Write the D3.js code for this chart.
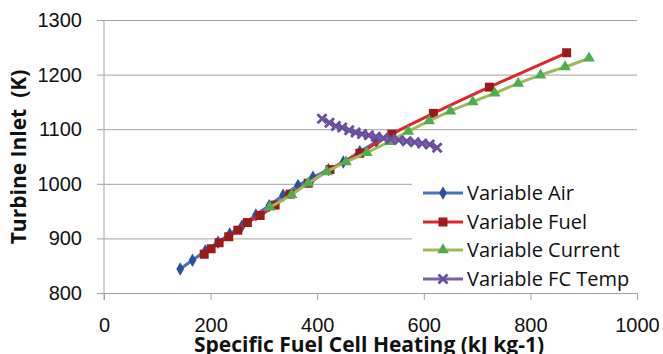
<!DOCTYPE html>
<html>
<head>
<meta charset="utf-8">
<script src="https://cdn.jsdelivr.net/npm/d3@7"></script>
<style>
  body { margin: 0; background: #fff; }
  svg { display: block; font-family: "Open Sans", "Noto Sans", sans-serif; }
</style>
</head>
<body>
<div id="chart"></div>
<script>
// values
const xTicks = [0, 200, 400, 600, 800, 1000];
const yTicks = [800, 900, 1000, 1100, 1200, 1300];

const airX = [143, 166, 190, 214, 236, 259, 285, 310, 336, 364, 392, 421, 449, 480, 511];
const airY = [844, 860, 877, 893, 908, 923, 943, 960, 979, 997, 1012, 1026, 1040, 1059, 1077];

const fuelX = [188, 201, 216, 234, 251, 269, 293, 321, 349, 383, 424, 480, 540, 618, 723, 868];
const fuelY = [871, 881, 892, 903, 915, 929, 942, 961, 981, 1001, 1026, 1056, 1091, 1129, 1177, 1240];

const currentX = [311, 352, 383, 418, 454, 493, 535, 571, 610, 650, 692, 733, 777, 819, 865, 910];
const currentY = [957, 980, 1001, 1022, 1040, 1057, 1077, 1096, 1115, 1133, 1150, 1166, 1184, 1199, 1214, 1230];

const fcTempX = [409, 423, 435, 447, 460, 472, 484, 497, 510, 524, 538, 553, 568, 583, 597, 611, 625];
const fcTempY = [1119, 1112, 1106, 1103, 1098, 1094, 1091, 1089, 1086, 1084, 1082, 1080, 1078, 1076, 1074, 1072, 1066];

const seriesNames = ["Variable Air", "Variable Fuel", "Variable Current", "Variable FC Temp"];

const zip = (xs, ys) => xs.map((x, i) => ({ x, y: ys[i] }));
const series = [
  { name: seriesNames[0], pts: zip(airX, airY), line: "#4a72c4", mark: "#2c4f9e", shape: "diamond" },
  { name: seriesNames[1], pts: zip(fuelX, fuelY), line: "#e0262a", mark: "#9b1b1b", shape: "square" },
  { name: seriesNames[2], pts: zip(currentX, currentY), line: "#9bbb59", mark: "#4cae4c", shape: "triangle" },
  { name: seriesNames[3], pts: zip(fcTempX, fcTempY), line: "#7b60a8", mark: "#6b4f9f", shape: "x" },
];

const W = 663, H = 354;
const margin = { top: 20, right: 26, bottom: 61, left: 104 };
const width = W - margin.left - margin.right;
const height = H - margin.top - margin.bottom;

const svg = d3.select("#chart").append("svg")
  .attr("width", W)
  .attr("height", H);

const xScale = d3.scaleLinear().domain([0, 1000]).range([margin.left, margin.left + width]);
const yScale = d3.scaleLinear().domain([800, 1300]).range([margin.top + height, margin.top]);

const grid = "#a3a3a3";
const fmt = d3.format("d");

// horizontal gridlines + y labels
const yAxis = svg.append("g")
  .attr("transform", `translate(${margin.left - 7},0)`)
  .call(d3.axisLeft(yScale).tickValues(yTicks).tickFormat(fmt).tickSize(-(width + 7)).tickPadding(15));
yAxis.select(".domain").remove();
yAxis.selectAll("line").attr("stroke", grid);
yAxis.selectAll("text").attr("font-size", 20).attr("fill", "#111");

// x axis with tick marks below
const xAxis = svg.append("g")
  .attr("transform", `translate(0,${margin.top + height})`)
  .call(d3.axisBottom(xScale).tickValues(xTicks).tickFormat(fmt).tickSize(7).tickPadding(18).tickSizeOuter(0));
xAxis.select(".domain").attr("stroke", grid);
xAxis.selectAll("line").attr("stroke", grid);
xAxis.selectAll("text").attr("font-size", 20).attr("fill", "#111");

// vertical axis line
svg.append("line")
  .attr("x1", margin.left).attr("x2", margin.left)
  .attr("y1", margin.top).attr("y2", margin.top + height + 7)
  .attr("stroke", grid);

// legend background hides gridlines behind it
const legend = { x: 412, y: 178, w: 228, h: 113 };
svg.append("rect")
  .attr("x", legend.x).attr("y", legend.y)
  .attr("width", legend.w).attr("height", legend.h)
  .attr("fill", "#fff");

const symbolFor = (shape) => {
  if (shape === "diamond") return d3.symbol(d3.symbolDiamond, 52)();
  if (shape === "square") return d3.symbol(d3.symbolSquare, 81)();
  if (shape === "triangle") return d3.symbol(d3.symbolTriangle, 58)();
  return "M-4.5,-4.5L4.5,4.5M-4.5,4.5L4.5,-4.5";
};

const drawMarker = (sel, s) => {
  if (s.shape === "x") {
    sel.attr("d", symbolFor(s.shape)).attr("fill", "none")
      .attr("stroke", s.mark).attr("stroke-width", 2.8);
  } else {
    sel.attr("d", symbolFor(s.shape)).attr("fill", s.mark);
  }
};

const lineGen = d3.line()
  .x((d) => xScale(d.x))
  .y((d) => yScale(d.y))
  .curve(d3.curveCatmullRom.alpha(0.5));

series.forEach((s) => {
  const g = svg.append("g");
  g.append("path")
    .datum(s.pts)
    .attr("d", lineGen)
    .attr("fill", "none")
    .attr("stroke", s.line)
    .attr("stroke-width", 3);
  g.selectAll("path.m")
    .data(s.pts)
    .join("path")
    .attr("class", "m")
    .attr("transform", (d) => `translate(${xScale(d.x)},${yScale(d.y)})`)
    .call(drawMarker, s);
});

// legend entries
const rowY = [193, 222, 250, 279];
series.forEach((s, i) => {
  const g = svg.append("g").attr("transform", `translate(0,${rowY[i]})`);
  g.append("line")
    .attr("x1", 423).attr("x2", 463)
    .attr("stroke", s.line).attr("stroke-width", 3);
  g.append("path")
    .attr("transform", "translate(443,0)")
    .call(drawMarker, s);
  g.append("text")
    .attr("x", 467).attr("dy", "0.35em")
    .attr("font-size", 20).attr("fill", "#111")
    .text(s.name);
});

// axis titles
svg.append("text")
  .attr("transform", `translate(26,157) rotate(-90)`)
  .attr("text-anchor", "middle")
  .attr("font-size", 21).attr("font-weight", "bold").attr("fill", "#111")
  .style("white-space", "pre")
  .text("Turbine Inlet  (K)");

svg.append("text")
  .attr("x", 369).attr("y", 352)
  .attr("text-anchor", "middle")
  .attr("font-size", 21).attr("font-weight", "bold").attr("fill", "#111")
  .text("Specific Fuel Cell Heating (kJ kg-1)");
</script>
</body>
</html>
